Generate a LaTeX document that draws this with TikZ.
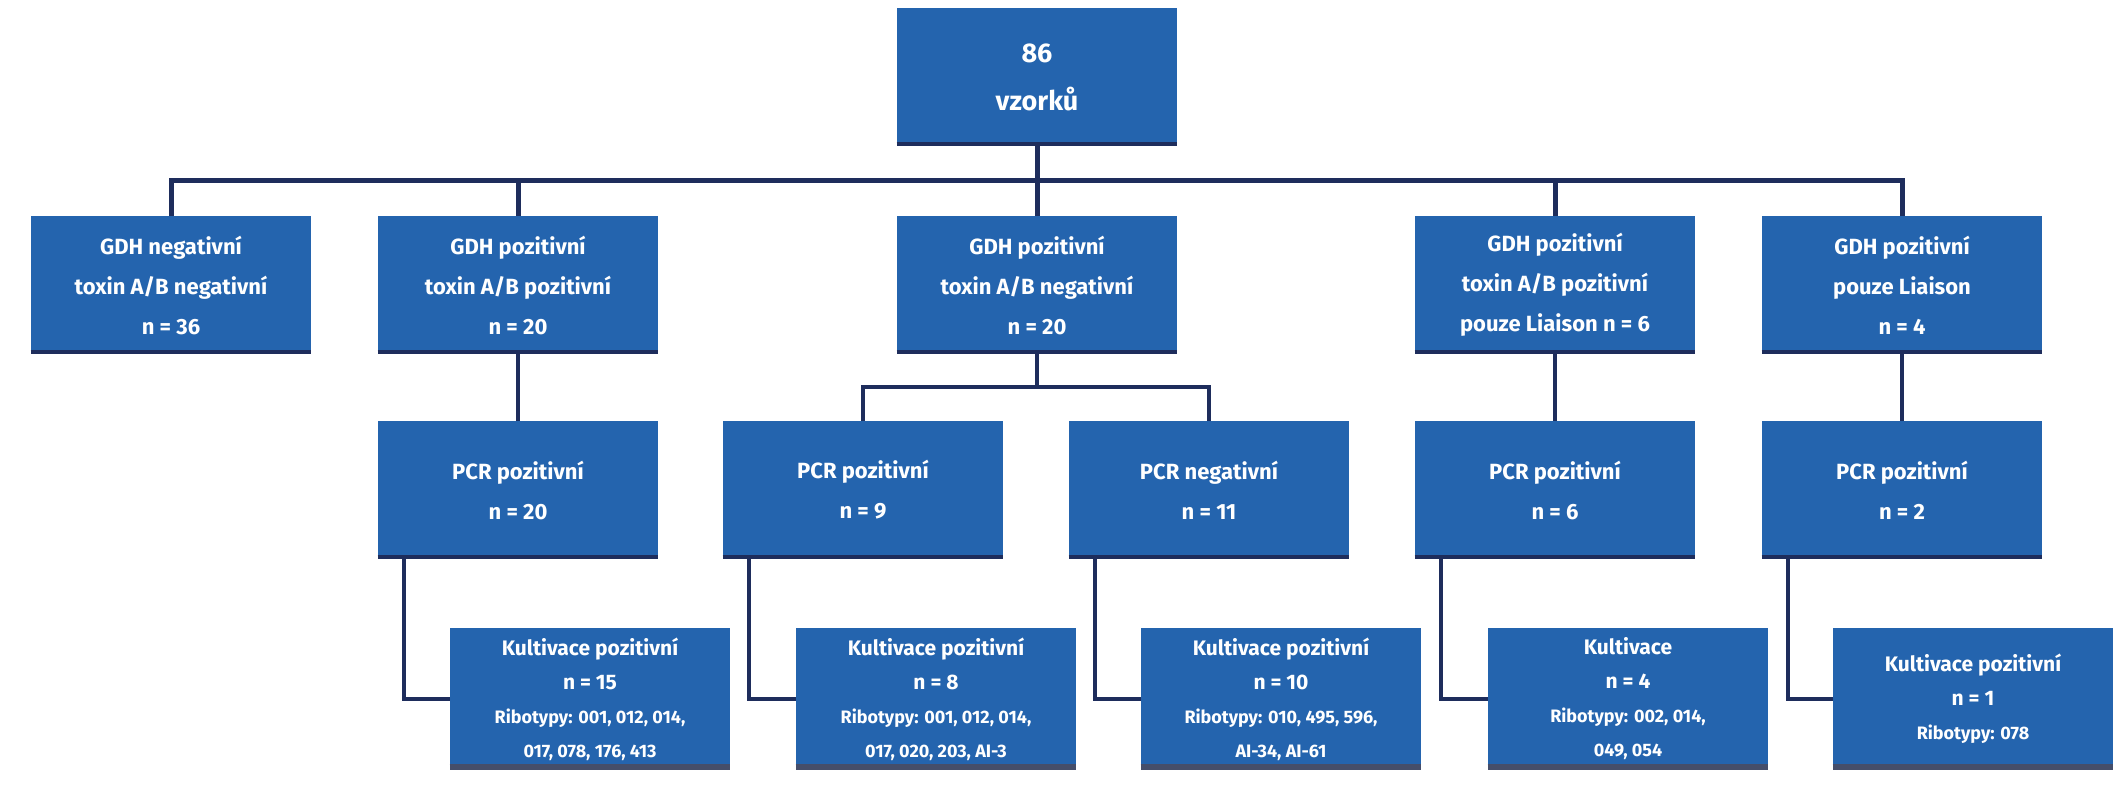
\documentclass[tikz,border=0pt]{standalone}
\usepackage{fontspec}
\setmainfont{Fira Sans}
\definecolor{boxblue}{HTML}{2464AE}
\definecolor{navy}{HTML}{1E2D5C}
\newcommand{\ribo}{\fontsize{9}{11.5}\selectfont}
\begin{document}
\begin{tikzpicture}[x=0.5pt,y=-0.5pt,
  box/.style={fill=boxblue,draw=none,inner sep=0pt,text=white,align=center,
    font=\bfseries\fontsize{11}{20}\selectfont,minimum width=140pt,minimum height=69pt},
  kbox/.style={box,minimum height=71pt,font=\bfseries\fontsize{10.5}{17}\selectfont},
  line/.style={navy,line width=2.5pt},
  edge/.style={navy,line width=2pt}]
\useasboundingbox (0,0) rectangle (2126,800);
\node[box,minimum height=69pt,font=\bfseries\fontsize{13.5}{24}\selectfont] (top) at (1037,77) {86\\vzorků};
\node[box] (a1) at (171,285) {GDH negativní\\toxin A/B negativní\\n = 36};
\node[box] (a2) at (518,285) {GDH pozitivní\\toxin A/B pozitivní\\n = 20};
\node[box] (a3) at (1037,285) {GDH pozitivní\\toxin A/B negativní\\n = 20};
\node[box] (a4) at (1555,285) {GDH pozitivní\\toxin A/B pozitivní\\pouze Liaison n = 6};
\node[box] (a5) at (1902,285) {GDH pozitivní\\pouze Liaison\\n = 4};
\node[box] (b1) at (518,490) {PCR pozitivní\\n = 20};
\node[box] (b2) at (863,490) {PCR pozitivní\\n = 9};
\node[box] (b3) at (1209,490) {PCR negativní\\n = 11};
\node[box] (b4) at (1555,490) {PCR pozitivní\\n = 6};
\node[box] (b5) at (1902,490) {PCR pozitivní\\n = 2};
\node[kbox] (c1) at (590,699) {Kultivace pozitivní\\n = 15\\\ribo Ribotypy: 001, 012, 014,\\\ribo 017, 078, 176, 413};
\node[kbox] (c2) at (936,699) {Kultivace pozitivní\\n = 8\\\ribo Ribotypy: 001, 012, 014,\\\ribo 017, 020, 203, AI-3};
\node[kbox] (c3) at (1281,699) {Kultivace pozitivní\\n = 10\\\ribo Ribotypy: 010, 495, 596,\\\ribo AI-34, AI-61};
\node[kbox] (c4) at (1628,699) {Kultivace\\n = 4\\\ribo Ribotypy: 002, 014,\\\ribo 049, 054};
\node[kbox] (c5) at (1973,699) {Kultivace pozitivní\\n = 1\\\ribo Ribotypy: 078};
\foreach \n in {top,a1,a2,a3,a4,a5,b1,b2,b3,b4,b5}
  \draw[navy,line width=2pt] ([yshift=1pt]\n.south west)--([yshift=1pt]\n.south east);
\foreach \n in {c1,c2,c3,c4,c5}
  \draw[navy!60!gray,line width=3pt] ([yshift=1.5pt]\n.south west)--([yshift=1.5pt]\n.south east);
% top level
\coordinate (h) at (1037,180);
\draw[line] (top.south) -- (h);
\draw[line] (a1.north) |- (h) -| (a5.north);
\draw[line] (a2.north) -- (a2.north |- h);
\draw[line] (h) -- (a3.north);
\draw[line] (a4.north) -- (a4.north |- h);
% middle
\draw[edge] (a2.south) -- (b1.north);
\coordinate (h3) at (1037,387);
\draw[edge] (a3.south) -- (h3);
\draw[edge] (b2.north) |- (h3) -| (b3.north);
\draw[edge] (a4.south) -- (b4.north);
\draw[edge] (a5.south) -- (b5.north);
% elbows
\draw[edge] ([xshift=-57pt]b1.south) |- (c1.west);
\draw[edge] ([xshift=-57pt]b2.south) |- (c2.west);
\draw[edge] ([xshift=-57pt]b3.south) |- (c3.west);
\draw[edge] ([xshift=-57pt]b4.south) |- (c4.west);
\draw[edge] ([xshift=-57pt]b5.south) |- (c5.west);
\end{tikzpicture}
\end{document}
